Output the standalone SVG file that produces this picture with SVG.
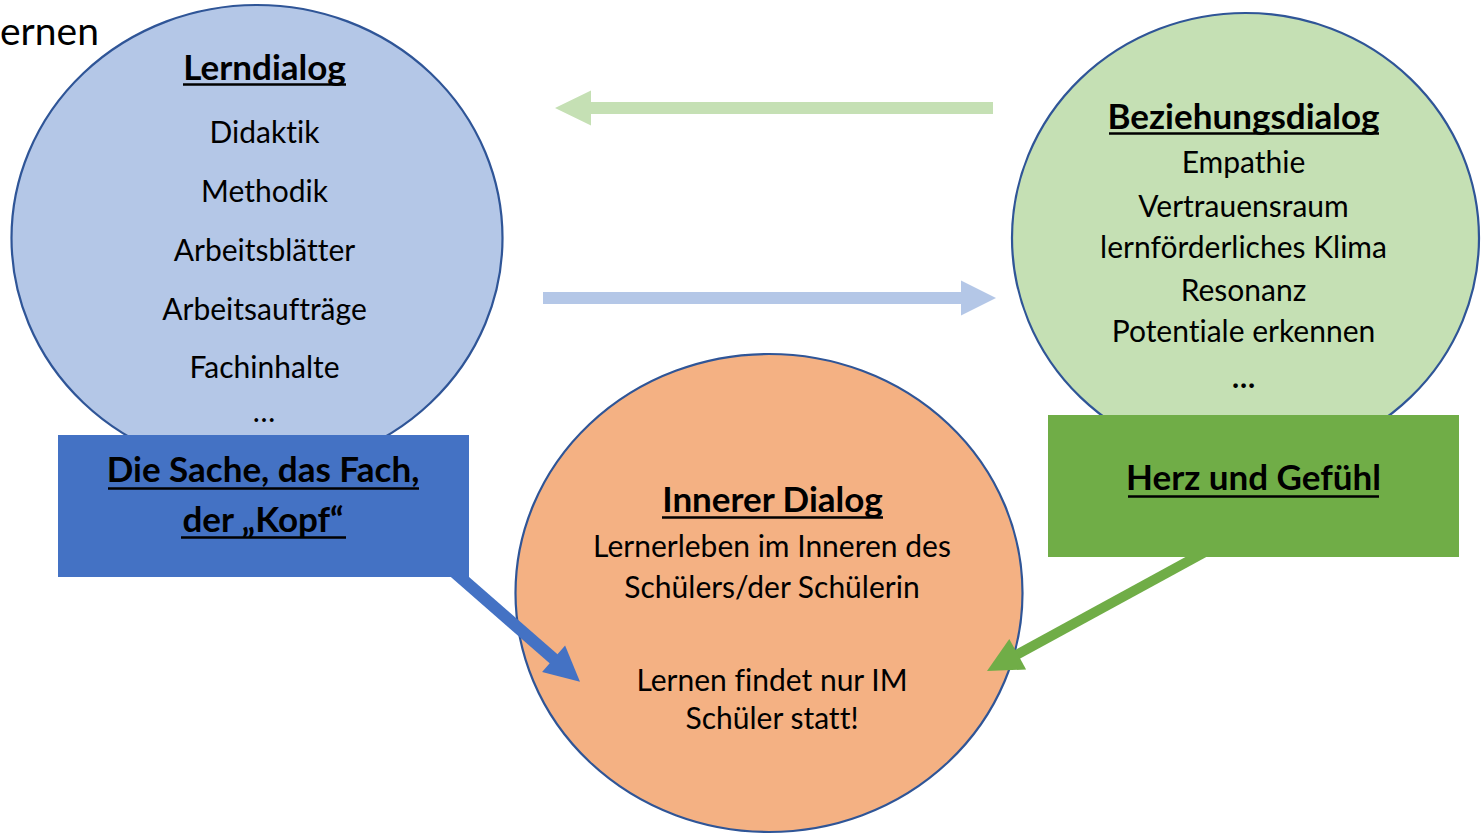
<svg xmlns="http://www.w3.org/2000/svg" width="1483" height="834" viewBox="0 0 1483 834">
  <style>
    .t { font-family: Lato, "Open Sans", "Liberation Sans", sans-serif; fill: #000; text-anchor: middle; font-variant-ligatures: none; }
    .body { font-size: 30px; }
    .title, .boxt { font-weight: bold; }
    .title { font-size: 35px; }
    .boxt { font-size: 35px; }
    .ul { stroke: #000; stroke-width: 2.6; }
    .bubble { stroke: #2F5597; stroke-width: 2.2; }
  </style>
  <rect x="0" y="0" width="1483" height="834" fill="#FFFFFF"/>
  <text x="0" y="45" font-family="Lato, 'Open Sans', sans-serif" font-size="39" fill="#000">ernen</text>

  <g id="lerndialog">
    <ellipse class="bubble" cx="257" cy="238" rx="245.5" ry="233" fill="#B4C7E7"/>
    <text class="t title" x="264.5" y="80">Lerndialog</text>
    <line class="ul" x1="183" y1="84.5" x2="346" y2="84.5"/>
    <text class="t body" x="264.5" y="143">Didaktik</text>
    <text class="t body" x="264.5" y="202">Methodik</text>
    <text class="t body" x="264.5" y="261">Arbeitsblätter</text>
    <text class="t body" x="264.5" y="320">Arbeitsaufträge</text>
    <text class="t body" x="264.5" y="378">Fachinhalte</text>
    <text class="t body" x="264" y="422" font-size="22">…</text>
  </g>

  <g id="beziehungsdialog">
    <ellipse class="bubble" cx="1245.5" cy="238" rx="233.5" ry="225" fill="#C5E0B4"/>
    <text class="t title" x="1243.5" y="129">Beziehungsdialog</text>
    <line class="ul" x1="1109" y1="133.5" x2="1379" y2="133.5"/>
    <text class="t body" x="1243.5" y="173">Empathie</text>
    <text class="t body" x="1243.5" y="217">Vertrauensraum</text>
    <text class="t body" x="1243.5" y="258">lernförderliches Klima</text>
    <text class="t body" x="1243.5" y="301">Resonanz</text>
    <text class="t body" x="1243.5" y="342">Potentiale erkennen</text>
    <text class="t body" x="1243.5" y="388" font-weight="bold">…</text>
  </g>

  <g id="innerer-dialog">
    <ellipse class="bubble" cx="769" cy="593" rx="253.5" ry="239" fill="#F4B183"/>
    <text class="t title" x="772.5" y="512">Innerer Dialog</text>
    <line class="ul" x1="662" y1="517.5" x2="883" y2="517.5"/>
    <text class="t body" x="772" y="557">Lernerleben im Inneren des</text>
    <text class="t body" x="772" y="598">Schülers/der Schülerin</text>
    <text class="t body" x="772" y="691">Lernen findet nur IM</text>
    <text class="t body" x="772" y="729">Schüler statt!</text>
  </g>

  <g id="connectors">
    <polygon points="555,108 591,90.5 591,102 993,102 993,114 591,114 591,125.5" fill="#C5E0B4"/>
    <polygon points="543,292 961,292 961,280.5 996,298 961,315.5 961,304 543,304" fill="#B4C7E7"/>
    <line x1="452.5" y1="570.4" x2="555" y2="660" stroke="#4472C4" stroke-width="12"/>
    <polygon points="580,681.7 542.1,671.9 565.1,645.5" fill="#4472C4"/>
    <line x1="1204.8" y1="552.2" x2="1016" y2="655.2" stroke="#70AD47" stroke-width="10"/>
    <polygon points="987,671 1026.1,669.5 1009.3,638.9" fill="#70AD47"/>
  </g>

  <g id="kopf">
    <rect x="58" y="435" width="411" height="142" fill="#4472C4"/>
    <text class="t boxt" x="263" y="482">Die Sache, das Fach,</text>
    <line class="ul" x1="108" y1="488.5" x2="419" y2="488.5"/>
    <text class="t boxt" x="263" y="532">der „Kopf“</text>
    <line class="ul" x1="181" y1="537.5" x2="346" y2="537.5"/>
  </g>

  <g id="herz">
    <rect x="1048" y="415" width="411" height="142" fill="#70AD47"/>
    <text class="t boxt" x="1253.5" y="490" font-size="37">Herz und Gefühl</text>
    <line class="ul" x1="1128" y1="496.5" x2="1379" y2="496.5"/>
  </g>
</svg>
